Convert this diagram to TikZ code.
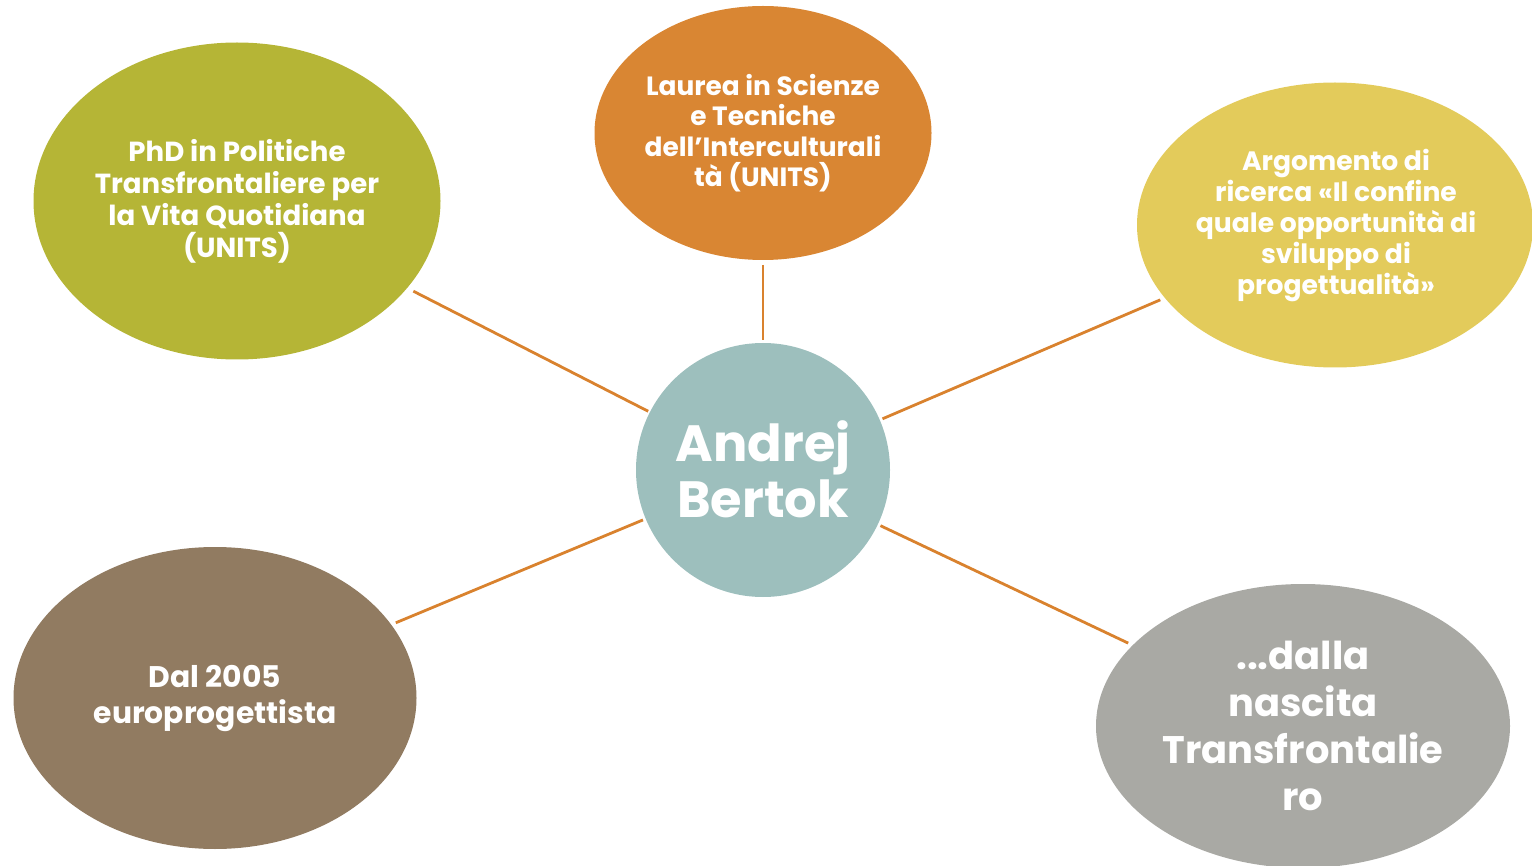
\documentclass[tikz,border=0pt]{standalone}
\usepackage{fontspec}
\setmainfont{Poppins}
\usetikzlibrary{shapes.geometric}
\definecolor{cgreen}{HTML}{B5B536}
\definecolor{corange}{HTML}{D98633}
\definecolor{cyellow}{HTML}{E3CB5B}
\definecolor{cteal}{HTML}{9DBFBD}
\definecolor{cbrown}{HTML}{917B61}
\definecolor{cgray}{HTML}{A9A9A4}
\definecolor{cline}{HTML}{D9822E}
\tikzset{
  blob/.style={ellipse, draw=none, inner sep=0pt, outer sep=0pt},
  txt/.style={text=white, align=center, inner sep=0pt, font=\bfseries},
  link/.style={draw=cline, line width=2.8pt}
}
\begin{document}
\begin{tikzpicture}[x=1pt,y=-1pt]
\useasboundingbox (0,0) rectangle (1532,866);
\node[blob, fill=cteal, minimum width=254pt, minimum height=254pt] (c) at (763,470) {};
\node[blob, fill=cgreen, minimum width=407pt, minimum height=317pt] (g) at (237,201) {};
\node[blob, fill=corange, minimum width=337pt, minimum height=254pt] (o) at (763,133) {};
\node[blob, fill=cyellow, minimum width=396pt, minimum height=285pt] (y) at (1335,225) {};
\node[blob, fill=cbrown, minimum width=403pt, minimum height=302pt] (b) at (215,698) {};
\node[blob, fill=cgray, minimum width=414pt, minimum height=284pt] (r) at (1303,726) {};

\node[txt, font=\bfseries\fontsize{51}{56}\selectfont] (ct) at (763,469) {Andrej\\Bertok};
\node[txt, font=\bfseries\fontsize{27.6}{32}\selectfont] (gt) at (237,201) {PhD in Politiche\\Transfrontaliere per\\la Vita Quotidiana\\(UNITS)};
\node[txt, font=\bfseries\fontsize{26.4}{30.5}\selectfont] (ot) at (763,133) {Laurea in Scienze\\e Tecniche\\dell’Interculturali\\tà (UNITS)};
\node[txt, font=\bfseries\fontsize{26.6}{31}\selectfont] (yt) at (1336,226) {Argomento di\\ricerca «Il confine\\quale opportunità di\\sviluppo di\\progettualità»};
\node[txt, font=\bfseries\fontsize{29.8}{36}\selectfont] (bt) at (215,698) {Dal 2005\\europrogettista};
\node[txt, font=\bfseries\fontsize{38.4}{47}\selectfont] (rt) at (1303,726) {...dalla\\nascita\\Transfrontalie\\ro};

\draw[link, shorten <=7pt, shorten >=2pt] (g) -- (c);
\draw[link, shorten <=5pt, shorten >=3pt] (o) -- (c);
\draw[link, shorten <=5pt, shorten >=3pt] (y) -- (c);
\draw[link, shorten <=5pt, shorten >=3pt] (b) -- (c);
\draw[link, shorten <=5pt, shorten >=3pt] (r) -- (c);
\end{tikzpicture}
\end{document}
